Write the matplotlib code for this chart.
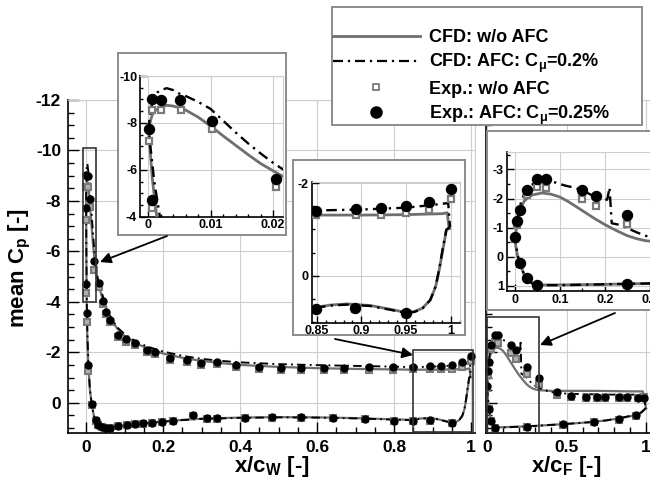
import matplotlib
matplotlib.use("Agg")
import matplotlib.pyplot as plt
from matplotlib.ticker import MultipleLocator, FixedLocator, FuncFormatter
from matplotlib.lines import Line2D
from matplotlib.patches import Rectangle

plt.rcParams['font.family'] = ['Liberation Sans', 'DejaVu Sans']
plt.rcParams['axes.unicode_minus'] = False
plt.rcParams['mathtext.fontset'] = 'custom'
plt.rcParams['mathtext.rm'] = 'Liberation Sans:bold'
plt.rcParams['mathtext.bf'] = 'Liberation Sans:bold'
plt.rcParams['mathtext.it'] = 'Liberation Sans:bold'

# ---------------- main wing element: CFD (lower surface TE->LE, then upper LE->TE)
wing_cfd_x = [0.998, 0.995, 0.991, 0.987, 0.983, 0.977, 0.968, 0.959, 0.95, 0.932, 0.91, 0.884, 0.865,
              0.849, 0.8, 0.7, 0.6, 0.5, 0.4, 0.3, 0.25, 0.2, 0.15, 0.1, 0.08, 0.06, 0.05, 0.04, 0.03,
              0.025, 0.02, 0.015, 0.01, 0.006, 0.003, 0.0014, 0.0007, 0.0002,
              0.0001, 0.0004, 0.0007, 0.001, 0.0015, 0.002, 0.003, 0.004, 0.005, 0.006, 0.008, 0.01,
              0.012, 0.014, 0.016, 0.018, 0.02, 0.022, 0.025, 0.03, 0.04, 0.05, 0.06, 0.08, 0.1, 0.13,
              0.16, 0.2, 0.25, 0.3, 0.35, 0.4, 0.5, 0.6, 0.7, 0.8, 0.85, 0.9, 0.95, 0.99, 0.996, 0.998]
wing_cfd_cp = [-1.02, -0.99, -0.56, -0.13, 0.23, 0.52, 0.70, 0.77, 0.79, 0.72, 0.64, 0.605, 0.63,
               0.68, 0.66, 0.61, 0.58, 0.57, 0.59, 0.63, 0.68, 0.74, 0.81, 0.89, 0.93, 0.97, 0.98, 0.95, 0.84,
               0.72, 0.5, 0.1, -0.5, -1.4, -2.6, -4.0, -5.6, -7.3,
               -7.7, -8.1, -8.35, -8.48, -8.6, -8.68, -8.75, -8.72, -8.65, -8.55, -8.25, -7.87,
               -7.45, -7.05, -6.65, -6.27, -5.96, -5.66, -5.3, -4.85, -4.25, -3.8, -3.45, -2.95, -2.65, -2.35,
               -2.15, -1.95, -1.78, -1.66, -1.57, -1.5, -1.42, -1.37, -1.34, -1.32, -1.31, -1.31, -1.32, -1.34, -1.36, -1.02]

wing_afc_x = [0.999, 0.995, 0.991, 0.987, 0.983, 0.977, 0.968, 0.959, 0.95, 0.932, 0.91, 0.884, 0.865,
              0.849, 0.8, 0.7, 0.6, 0.5, 0.4, 0.3, 0.25, 0.2, 0.15, 0.1, 0.08, 0.06, 0.05, 0.04, 0.03,
              0.025, 0.02, 0.015, 0.01, 0.006, 0.003, 0.0019, 0.001, 0.0003,
              0.0001, 0.0004, 0.0007, 0.001, 0.0015, 0.002, 0.003, 0.004, 0.005, 0.006, 0.008, 0.01,
              0.012, 0.014, 0.016, 0.018, 0.02, 0.022, 0.025, 0.03, 0.04, 0.05, 0.06, 0.08, 0.1, 0.13,
              0.16, 0.2, 0.25, 0.3, 0.35, 0.4, 0.5, 0.6, 0.7, 0.8, 0.85, 0.9, 0.95, 0.98, 0.997, 0.999]
wing_afc_cp = [-1.05, -1.0, -0.6, -0.15, 0.22, 0.52, 0.71, 0.78, 0.80, 0.73, 0.65, 0.62, 0.64,
               0.69, 0.67, 0.62, 0.59, 0.58, 0.6, 0.64, 0.69, 0.75, 0.82, 0.9, 0.94, 0.98, 0.99, 0.96, 0.86,
               0.74, 0.52, 0.1, -0.5, -1.5, -3.0, -4.0, -5.5, -7.2,
               -7.8, -8.5, -8.85, -9.1, -9.3, -9.4, -9.48, -9.4, -9.25, -9.15, -8.9, -8.6,
               -8.1, -7.6, -7.13, -6.7, -6.3, -5.95, -5.45, -4.95, -4.4, -3.9, -3.5, -3.0, -2.72, -2.42,
               -2.22, -2.03, -1.86, -1.74, -1.66, -1.6, -1.53, -1.49, -1.46, -1.43, -1.41, -1.43, -1.47, -1.53, -1.57, -1.05]

# experiment, main wing, without actuation
wing_exp_x = [0.0002, 0.0007, 0.0021, 0.0052, 0.0102, 0.0204, 0.034, 0.045, 0.052, 0.062, 0.084, 0.104,
              0.127, 0.157, 0.179, 0.219, 0.261, 0.298, 0.339, 0.39, 0.45, 0.507, 0.559, 0.619, 0.671,
              0.734, 0.796, 0.849, 0.894, 0.922, 0.95, 0.975, 1.0,
              0.0006, 0.003, 0.006, 0.0145, 0.0246, 0.032, 0.0407, 0.052, 0.062, 0.084, 0.105, 0.127,
              0.147, 0.17, 0.196, 0.226, 0.278, 0.313, 0.339, 0.412, 0.484, 0.559, 0.641, 0.725, 0.80,
              0.849, 0.893, 0.95]
wing_exp_cp = [-7.23, -8.55, -8.55, -8.55, -7.75, -5.28, -4.6, -3.92, -3.5, -3.2, -2.6, -2.42,
               -2.27, -2.0, -1.95, -1.68, -1.6, -1.5, -1.52, -1.4, -1.33, -1.3, -1.29, -1.28, -1.28,
               -1.3, -1.31, -1.32, -1.32, -1.32, -1.35, -1.42, -1.66,
               -4.36, -3.21, -1.26, 0.1, 0.72, 0.9, 0.97, 1.0, 1.0, 0.93, 0.89, 0.86,
               0.83, 0.8, 0.76, 0.72, 0.51, 0.63, 0.63, 0.6, 0.59, 0.59, 0.6, 0.66, 0.74,
               0.72, 0.71, 0.82]

# experiment, main wing, with actuation
wing_exp_afc_x = [0.0002, 0.0007, 0.0021, 0.0051, 0.0102, 0.0204, 0.034, 0.045, 0.052, 0.062, 0.084, 0.104,
                  0.127, 0.157, 0.179, 0.219, 0.261, 0.298, 0.339, 0.39, 0.45, 0.507, 0.559, 0.619, 0.671,
                  0.734, 0.796, 0.849, 0.894, 0.922, 0.95, 0.975, 1.0,
                  0.0007, 0.003, 0.006, 0.0145, 0.0246, 0.032, 0.0407, 0.052, 0.062, 0.084, 0.105, 0.127,
                  0.147, 0.17, 0.196, 0.226, 0.278, 0.313, 0.339, 0.412, 0.484, 0.559, 0.641, 0.725, 0.80,
                  0.849, 0.893, 0.95]
wing_exp_afc_cp = [-7.73, -9.02, -8.98, -8.98, -8.09, -5.61, -4.74, -4.04, -3.6, -3.28, -2.69, -2.51,
                   -2.36, -2.09, -2.03, -1.76, -1.69, -1.59, -1.63, -1.5, -1.43, -1.39, -1.39, -1.37, -1.37,
                   -1.41, -1.43, -1.40, -1.44, -1.46, -1.51, -1.60, -1.87,
                   -4.71, -3.57, -1.5, 0.06, 0.69, 0.88, 0.95, 0.99, 0.99, 0.92, 0.88, 0.85,
                   0.82, 0.79, 0.75, 0.71, 0.49, 0.62, 0.62, 0.59, 0.58, 0.58, 0.59, 0.65, 0.73,
                   0.71, 0.70, 0.81]

# ---------------- flap: CFD (lower surface TE->LE, then upper LE->TE)
flap_cfd_x = [1.0, 0.97, 0.93, 0.85, 0.75, 0.65, 0.5, 0.4, 0.3, 0.2, 0.1, 0.06, 0.04, 0.03, 0.02, 0.012,
              0.006, 0.002,
              0.0, 0.003, 0.007, 0.012, 0.02, 0.03, 0.04, 0.06, 0.08, 0.1, 0.12, 0.15, 0.175, 0.2, 0.225,
              0.25, 0.27, 0.29, 0.32, 0.4, 0.5, 0.6, 0.7, 0.8, 0.9, 0.98, 1.0]
flap_cfd_cp = [0.22, 0.4, 0.5, 0.6, 0.7, 0.77, 0.84, 0.88, 0.92, 0.95, 0.97, 0.97, 0.93, 0.82, 0.6, 0.3,
               0.0, -0.35,
               -0.62, -0.95, -1.35, -1.65, -1.9, -2.05, -2.13, -2.19, -2.15, -2.05, -1.88, -1.58, -1.33,
               -1.1, -0.9, -0.72, -0.62, -0.55, -0.5, -0.47, -0.47, -0.47, -0.47, -0.46, -0.45, -0.45, 0.22]

flap_afc_x = [1.0, 0.97, 0.93, 0.85, 0.75, 0.65, 0.5, 0.4, 0.3, 0.2, 0.1, 0.06, 0.04, 0.03, 0.02, 0.012,
              0.006, 0.002,
              0.0, 0.003, 0.007, 0.012, 0.02, 0.03, 0.04, 0.055, 0.07, 0.09, 0.11, 0.13, 0.15, 0.17, 0.19,
              0.205, 0.21, 0.215, 0.23, 0.25, 0.27, 0.29, 0.32, 0.4, 0.5, 0.6, 0.7, 0.8, 0.9, 0.98, 1.0]
flap_afc_cp = [0.2, 0.38, 0.48, 0.59, 0.7, 0.77, 0.84, 0.88, 0.92, 0.95, 0.98, 0.98, 0.94, 0.83, 0.6, 0.28,
               -0.05, -0.4,
               -0.65, -1.0, -1.45, -1.8, -2.15, -2.38, -2.5, -2.6, -2.62, -2.55, -2.45, -2.38, -2.28, -2.12,
               -2.0, -1.96, -2.38, -1.15, -1.1, -0.98, -0.84, -0.72, -0.6, -0.42, -0.36, -0.34, -0.33,
               -0.32, -0.32, -0.32, 0.2]

flap_exp_x = [0.0, 0.005, 0.026, 0.05, 0.07, 0.15, 0.179, 0.248, 0.323, 0.44, 0.53, 0.62, 0.69, 0.74,
              0.83, 0.88, 0.95, 0.99,
              0.011, 0.026, 0.05, 0.25, 0.48, 0.67, 0.83, 0.935]
flap_exp_cp = [-0.6, -1.1, -2.13, -2.39, -2.36, -1.98, -1.75, -1.12, -0.75, -0.3, -0.22, -0.2, -0.2, -0.2,
               -0.2, -0.2, -0.2, -0.22,
               0.25, 0.74, 1.0, 0.96, 0.87, 0.76, 0.67, 0.52]

flap_exp_afc_x = [0.0, 0.005, 0.011, 0.026, 0.05, 0.07, 0.15, 0.179, 0.25, 0.323, 0.44, 0.53, 0.62, 0.69,
                  0.74, 0.83, 0.88, 0.95, 0.99,
                  0.011, 0.026, 0.05, 0.25, 0.48, 0.67, 0.83, 0.935]
flap_exp_afc_cp = [-0.67, -1.24, -1.61, -2.3, -2.67, -2.67, -2.3, -2.1, -1.43, -1.0, -0.44, -0.26, -0.24,
                   -0.24, -0.24, -0.22, -0.22, -0.2, -0.2,
                   0.23, 0.72, 0.99, 0.95, 0.86, 0.75, 0.66, 0.5]

legend_labels = ['CFD: w/o AFC', 'CFD: AFC: C$_{\u03bc}$=0.2%',
                 'Exp.: w/o AFC', 'Exp.: AFC: C$_{\u03bc}$=0.25%']

W, H = 650, 486
GRAY_LINE = '#6f6f6f'
GRAY_MARK = '#7a7a7a'
GRID = '#cdcdcd'
FRAME = '#8c8c8c'
DASHDOT = (0, (4.5, 2.2, 1.0, 2.2))


def rect(l, t, r, b):
    return [l / W, 1 - b / H, (r - l) / W, (b - t) / H]


def fmt(v, pos):
    return '%g' % round(v, 4)


def draw_series(ax, cfd_x, cfd_cp, afc_x, afc_cp, exp_x, exp_cp, ea_x, ea_cp, big):
    lw = 2.0 if big else 1.6
    ax.plot(cfd_x, cfd_cp, color=GRAY_LINE, lw=lw, zorder=3, solid_joinstyle='round')
    ax.plot(afc_x, afc_cp, color='black', lw=lw * 0.85, ls=DASHDOT, zorder=4)
    ax.plot(exp_x, exp_cp, ls='none', marker='s', ms=4.6 if big else 4.0,
            mfc='white' if big else '#b0b0b0',
            mec=GRAY_MARK, mew=1.6 if big else 1.5, zorder=5)
    ax.plot(ea_x, ea_cp, ls='none', marker='o', ms=7.2 if big else 5.0, mfc='black',
            mec='black', zorder=6)


def style_axes(ax, labelsize, weight, lmaj, lmin, pad):
    ax.set_axisbelow(True)
    ax.grid(True, which='major', color=GRID, lw=0.8)
    for s in ('top', 'right'):
        ax.spines[s].set_color(GRID)
        ax.spines[s].set_linewidth(0.8)
    for s in ('left', 'bottom'):
        ax.spines[s].set_color('black')
        ax.spines[s].set_linewidth(1.2)
    ax.tick_params(which='both', direction='in', top=False, right=False, width=1.0,
                   labelsize=labelsize, pad=pad)
    ax.tick_params(which='major', length=lmaj)
    ax.tick_params(which='minor', length=lmin)
    for lab in ax.get_xticklabels() + ax.get_yticklabels():
        lab.set_fontweight(weight)
    ax.xaxis.set_major_formatter(FuncFormatter(fmt))
    ax.yaxis.set_major_formatter(FuncFormatter(fmt))


fig = plt.figure(figsize=(W / 100, H / 100), dpi=100)

# ---------------- main wing panel
axw = fig.add_axes(rect(68, 100, 475, 433), zorder=0)
draw_series(axw, wing_cfd_x, wing_cfd_cp, wing_afc_x, wing_afc_cp,
            wing_exp_x, wing_exp_cp, wing_exp_afc_x, wing_exp_afc_cp, False)
axw.set_xlim(-0.047, 1.010)
axw.set_ylim(1.2, -12.0)
axw.xaxis.set_major_locator(MultipleLocator(0.2))
axw.xaxis.set_minor_locator(MultipleLocator(0.05))
axw.yaxis.set_major_locator(MultipleLocator(2))
axw.yaxis.set_minor_locator(MultipleLocator(0.5))
style_axes(axw, 12.5, 'bold', 8, 4, 5)
axw.add_patch(Rectangle((-0.008, -10.1), 0.034, 6.1, fill=False, ec='#333333', lw=1.2, zorder=7))
axw.add_patch(Rectangle((0.85, -2.08), 0.156, 3.24, fill=False, ec='#333333', lw=1.2, zorder=7,
                        clip_on=False))

# ---------------- flap panel
axf = fig.add_axes(rect(486, 100, 650, 433), zorder=0)
draw_series(axf, flap_cfd_x, flap_cfd_cp, flap_afc_x, flap_afc_cp,
            flap_exp_x, flap_exp_cp, flap_exp_afc_x, flap_exp_afc_cp, False)
axf.set_xlim(-0.008, 1.025)
axf.set_ylim(1.2, -12.0)
axf.xaxis.set_major_locator(MultipleLocator(0.5))
axf.xaxis.set_minor_locator(MultipleLocator(0.1))
axf.yaxis.set_major_locator(MultipleLocator(2))
axf.yaxis.set_minor_locator(MultipleLocator(0.5))
style_axes(axf, 12.5, 'bold', 8, 4, 5)
axf.tick_params(labelleft=False)
axf.add_patch(Rectangle((0.0, -3.39), 0.327, 4.59, fill=False, ec='#333333', lw=1.2, zorder=7))


def frame(l, t, r, b):
    a = fig.add_axes(rect(l, t, r, b), zorder=2)
    a.set_xticks([])
    a.set_yticks([])
    a.set_facecolor('white')
    for s in a.spines.values():
        s.set_color(FRAME)
        s.set_linewidth(1.4)
    return a


# ---------------- leading-edge inset
frame(118, 53, 285.5, 235)
axl = fig.add_axes(rect(140, 76, 283, 216.7), zorder=3)
draw_series(axl, wing_cfd_x, wing_cfd_cp, wing_afc_x, wing_afc_cp,
            wing_exp_x, wing_exp_cp, wing_exp_afc_x, wing_exp_afc_cp, True)
axl.set_xlim(-0.00128, 0.0216)
axl.set_ylim(-4, -10)
axl.xaxis.set_major_locator(MultipleLocator(0.01))
axl.xaxis.set_minor_locator(MultipleLocator(0.002))
axl.yaxis.set_major_locator(MultipleLocator(2))
axl.yaxis.set_minor_locator(MultipleLocator(0.5))
style_axes(axl, 9, 'bold', 5, 2.5, 2)

# ---------------- trailing-edge inset
frame(293, 160, 465, 335)
axt = fig.add_axes(rect(311.7, 181.7, 460, 322.7), zorder=3)
draw_series(axt, wing_cfd_x, wing_cfd_cp, wing_afc_x, wing_afc_cp,
            wing_exp_x, wing_exp_cp, wing_exp_afc_x, wing_exp_afc_cp, True)
axt.set_xlim(0.8444, 1.0102)
axt.set_ylim(1.01, -2.03)
axt.xaxis.set_major_locator(FixedLocator([0.85, 0.9, 0.95, 1.0]))
axt.xaxis.set_minor_locator(MultipleLocator(0.01))
axt.yaxis.set_major_locator(MultipleLocator(2))
axt.yaxis.set_minor_locator(MultipleLocator(0.5))
style_axes(axt, 9, 'bold', 5, 2.5, 2)

# ---------------- flap leading-edge inset
frame(487, 131, 680, 310)
axi = fig.add_axes(rect(506.7, 151.7, 663.5, 291), zorder=3)
draw_series(axi, flap_cfd_x, flap_cfd_cp, flap_afc_x, flap_afc_cp,
            flap_exp_x, flap_exp_cp, flap_exp_afc_x, flap_exp_afc_cp, True)
axi.set_xlim(-0.0184, 0.33)
axi.set_ylim(1.18, -3.61)
axi.xaxis.set_major_locator(MultipleLocator(0.1))
axi.xaxis.set_minor_locator(MultipleLocator(0.05))
axi.yaxis.set_major_locator(MultipleLocator(1))
axi.yaxis.set_minor_locator(MultipleLocator(0.5))
style_axes(axi, 9, 'bold', 5, 2.5, 2)

# ---------------- overlay: arrows and legend box
ov = fig.add_axes([0, 0, 1, 1], zorder=8)
ov.set_xlim(0, W)
ov.set_ylim(H, 0)
ov.axis('off')
arrow = dict(arrowstyle='-|>', mutation_scale=16, lw=1.3, color='black', shrinkA=0, shrinkB=0)
ov.annotate('', xy=(100, 262), xytext=(167, 236), arrowprops=arrow)
ov.annotate('', xy=(413, 355), xytext=(335, 339), arrowprops=arrow)
ov.annotate('', xy=(540, 345), xytext=(615, 313), arrowprops=arrow)
ov.add_patch(Rectangle((332, 7), 310, 118, fill=True, fc='white', ec=FRAME, lw=1.4))

handles = [Line2D([], [], color=GRAY_LINE, lw=2.0),
           Line2D([], [], color='black', lw=1.6, ls=DASHDOT),
           Line2D([], [], ls='none', marker='s', ms=5, mfc='white', mec=GRAY_MARK, mew=1.3),
           Line2D([], [], ls='none', marker='o', ms=8, mfc='black', mec='black')]
leg = fig.legend(handles, legend_labels, loc='upper left', bbox_to_anchor=(333 / W, 1 - 29 / H),
                 frameon=False, handlelength=4.8, handletextpad=0.5, labelspacing=0.32,
                 borderpad=0, borderaxespad=0, prop=dict(weight='bold', size=13))
leg.set_zorder(10)

# ---------------- axis titles
fig.text(20 / W, 1 - 268 / H, 'mean C$_{\\mathbf{p}}$ [-]', rotation=90, ha='center', va='center',
         fontsize=16, fontweight='bold')
fig.text(272 / W, 1 - 466 / H, 'x/c$_{\\mathbf{W}}$ [-]', ha='center', va='center',
         fontsize=16, fontweight='bold')
fig.text(566 / W, 1 - 466 / H, 'x/c$_{\\mathbf{F}}$ [-]', ha='center', va='center',
         fontsize=16, fontweight='bold')

fig.savefig('out.png', dpi=100)
